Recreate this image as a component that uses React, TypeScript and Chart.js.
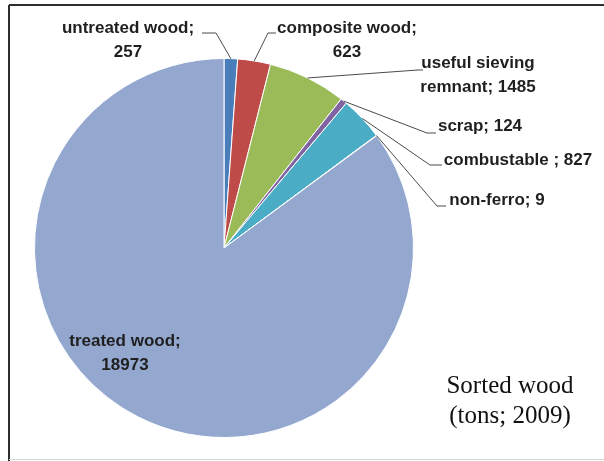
import React, { useEffect, useRef } from "react";
import { Chart, registerables } from "chart.js";

Chart.register(...registerables);

// ---- data ----
const categories = [
  "untreated wood",
  "composite wood",
  "useful sieving remnant",
  "scrap",
  "combustable",
  "non-ferro",
  "treated wood",
];
const tons = [257, 623, 1485, 124, 827, 9, 18973];
const separators = ["; ", "; ", "; ", "; ", " ; ", "; ", "; "];
const titleLines = ["Sorted wood", "(tons; 2009)"];

// ---- styles / layout ----
const sliceColors = [
  "#4A7EBB",
  "#BE4B48",
  "#9BBB59",
  "#8064A2",
  "#4BACC6",
  "#F79646",
  "#93A7CF",
];

type LabelLayout = {
  cx: number;
  y: number;
  wrap: number;
  elbow?: [number, number];
  end?: [number, number];
};

const labelLayout: LabelLayout[] = [
  { cx: 128, y: 28, wrap: 2, elbow: [216, 33], end: [202, 33] },
  { cx: 347, y: 28, wrap: 2, elbow: [268, 33], end: [276, 33] },
  { cx: 478, y: 63, wrap: 2, elbow: [418, 70], end: [423, 70] },
  { cx: 480, y: 126, wrap: 0, elbow: [427, 133], end: [436, 133] },
  { cx: 518, y: 160, wrap: 0, elbow: [430, 165], end: [442, 165] },
  { cx: 497, y: 200, wrap: 0, elbow: [437, 206], end: [446, 206] },
  { cx: 125, y: 341, wrap: 2 },
];

const LABEL_FONT = "bold 17px 'Liberation Sans', Arial, sans-serif";
const LINE_H = 24;

const labelPlugin = {
  id: "pieLabels",
  beforeDraw(chart: any) {
    const ctx = chart.ctx;
    ctx.save();
    ctx.strokeStyle = "#2e2e2e";
    ctx.lineWidth = 2;
    ctx.beginPath();
    ctx.moveTo(9, 5);
    ctx.lineTo(604, 5);
    ctx.moveTo(9, 5);
    ctx.lineTo(9, 461);
    ctx.stroke();
    ctx.strokeStyle = "#d8d8d8";
    ctx.lineWidth = 1;
    ctx.beginPath();
    ctx.moveTo(9, 459.5);
    ctx.lineTo(604, 459.5);
    ctx.stroke();
    ctx.restore();
  },
  afterDatasetsDraw(chart: any) {
    const ctx = chart.ctx;
    const meta = chart.getDatasetMeta(0);
    ctx.save();
    meta.data.forEach((arc: any, i: number) => {
      const lay = labelLayout[i];
      const p = arc.getProps(["x", "y", "startAngle", "endAngle", "outerRadius"], true);
      const mid = (p.startAngle + p.endAngle) / 2;
      const ax = p.x + Math.cos(mid) * p.outerRadius;
      const ay = p.y + Math.sin(mid) * p.outerRadius;
      if (lay.elbow && lay.end) {
        ctx.strokeStyle = "#4a4a4a";
        ctx.lineWidth = 1;
        ctx.beginPath();
        ctx.moveTo(ax, ay);
        ctx.lineTo(lay.elbow[0], lay.elbow[1]);
        ctx.lineTo(lay.end[0], lay.end[1]);
        ctx.stroke();
      }
      const full = categories[i] + separators[i] + tons[i];
      const words = full.split(" ");
      const lines =
        lay.wrap > 0
          ? [words.slice(0, lay.wrap).join(" "), words.slice(lay.wrap).join(" ")]
          : [full];
      ctx.font = LABEL_FONT;
      ctx.fillStyle = "#1f1f1f";
      ctx.textAlign = "center";
      ctx.textBaseline = "middle";
      lines.forEach((ln, k) => ctx.fillText(ln, lay.cx, lay.y + k * LINE_H));
    });
    ctx.font = "25px 'Liberation Serif', 'Times New Roman', serif";
    ctx.fillStyle = "#111";
    ctx.textAlign = "center";
    ctx.textBaseline = "alphabetic";
    ctx.fillText(titleLines[0], 510, 393);
    ctx.fillText(titleLines[1], 510, 423);
    ctx.restore();
  },
};

export default function App() {
  const ref = useRef<HTMLCanvasElement | null>(null);
  useEffect(() => {
    if (!ref.current) return;
    const chart = new Chart(ref.current, {
      type: "pie",
      data: {
        labels: categories,
        datasets: [
          {
            data: tons,
            backgroundColor: sliceColors,
            borderColor: "#ffffff",
            borderWidth: 1,
          },
        ],
      },
      options: {
        responsive: false,
        animation: false,
        layout: { padding: { left: 34, right: 190, top: 58, bottom: 23 } },
        plugins: {
          legend: { display: false },
          tooltip: { enabled: false },
        },
      },
      plugins: [labelPlugin],
    });
    return () => chart.destroy();
  }, []);
  return (
    <div style={{ position: "fixed", left: 0, top: 0, width: 604, height: 461, background: "#fff" }}>
      <canvas ref={ref} width={604} height={461} />
    </div>
  );
}
